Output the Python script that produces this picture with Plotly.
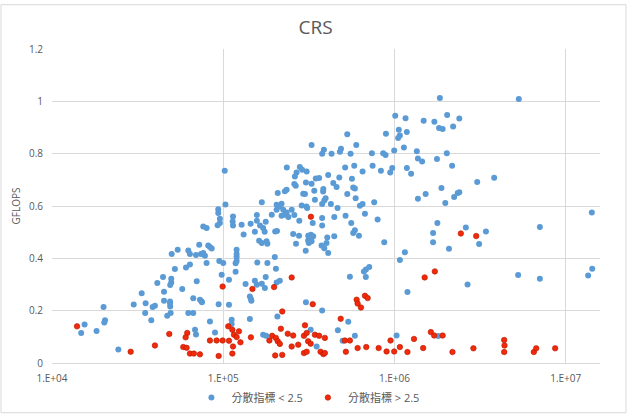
import plotly.graph_objects as go

# ---------------- data ----------------
chart_title = "CRS"
y_axis_title = "GFLOPS"
series_names = ["分散指標 < 2.5", "分散指標 > 2.5"]
x_tick_vals = [1e4, 1e5, 1e6, 1e7]
x_tick_labels = ["1.E+04", "1.E+05", "1.E+06", "1.E+07"]

blue_x = [
    14800, 15500, 18200, 20000, 20400, 20200, 24400, 30000,
    76400, 80000, 92700, 95600, 113500, 114000, 128000, 144500, 157000, 164000, 171000, 174500, 177000, 131500, 153000, 201000, 206000, 162000, 168000, 179000, 181000,
    50000, 54200, 62500, 63900, 69300, 72400, 74100, 76400, 78200, 81700, 83600, 85600, 79900, 94800, 100000, 119700, 119700, 119700, 119700, 118100, 118100, 158000, 181000, 200000, 203000,
    52200, 60600, 63900, 97900, 108000, 70000, 57600, 44500, 41200, 49700, 49700, 49000, 45100, 66800, 73100, 74800, 75100, 94000, 108000, 135000, 153000, 157000, 168000, 175000, 143000, 145000, 146000, 177000, 205000, 214000,
    33400, 35200, 38700, 39900, 45100, 48900, 48900, 49000, 47100, 49300, 38000, 62500, 66800, 35000, 83600, 112000, 143000, 207000, 68400, 69300, 89500, 112000, 171000, 178000,
    102000, 103000, 93500, 93500, 95600, 114000, 157000, 168000, 192000, 205000, 205000, 214000, 219000, 224000, 208000, 229000, 234500, 219000, 229000, 234500, 240000, 235000,
    1840000, 1010000, 1160000, 1480000, 1710000, 2030000, 2200000, 2390000, 1820000, 1910000, 530000, 891000, 1060000, 1180000, 1075000, 1050000,
    328000, 387000, 378000, 429000, 487000, 480000, 554000, 598000, 738000, 859000, 887000, 996000, 1135000, 1350000, 1370000, 1450000, 1770000, 2020000,
    515000, 582000, 651000, 745000, 833000, 944000, 970000, 1181000, 1250000, 2170000, 280000, 289000, 268000, 262000, 307000,
    260000, 265000, 304000, 328000, 347000, 363000, 410000, 439000, 459000, 476000, 564000, 574000, 587000,
    293000, 300000, 340000, 384000, 383000, 530000, 343000, 396000, 389000, 378000, 425000, 287000, 309000, 306000, 593000, 651000, 628000, 761000, 465000,
    251000, 260000, 378000, 445000, 518000, 672000, 1370000, 1520000, 1880000, 1980000, 2230000, 2340000, 2390000, 3040000, 3820000, 5320000,
    278000, 333000, 378000, 559000, 797000, 256000, 277000, 266000, 313500, 325000, 335000, 321000, 313000, 316000, 328000, 303000, 375000, 389000, 401000, 410000, 405000, 445000,
    574000, 587000, 620000, 871000, 1150000, 1075000, 1680000, 1680000, 1780000, 2080000, 712000, 681000, 663000, 549000, 680000, 1190000,
    304000, 378000, 537000, 324000, 467000, 587000, 498000, 351000, 1028000, 1800000,
    2610000, 3120000, 3420000, 7060000, 14200000, 2670000, 5270000, 7060000, 14270000, 13510000,
]
blue_y = [
    0.115, 0.147, 0.122, 0.214, 0.163, 0.155, 0.052, 0.224,
    0.522, 0.516, 0.526, 0.535, 0.541, 0.525, 0.528, 0.532, 0.544, 0.525, 0.516, 0.502, 0.540, 0.491, 0.502, 0.503, 0.504, 0.467, 0.459, 0.465, 0.456,
    0.417, 0.433, 0.430, 0.417, 0.413, 0.452, 0.417, 0.420, 0.410, 0.449, 0.443, 0.438, 0.382, 0.390, 0.382, 0.433, 0.417, 0.405, 0.390, 0.381, 0.349, 0.384, 0.382, 0.405, 0.360,
    0.359, 0.365, 0.376, 0.337, 0.318, 0.312, 0.283, 0.329, 0.306, 0.322, 0.308, 0.298, 0.272, 0.247, 0.242, 0.235, 0.232, 0.225, 0.223, 0.302, 0.314, 0.299, 0.303, 0.287, 0.254, 0.245, 0.238, 0.329, 0.308, 0.314,
    0.267, 0.228, 0.214, 0.219, 0.238, 0.235, 0.227, 0.216, 0.181, 0.191, 0.163, 0.191, 0.191, 0.191, 0.159, 0.165, 0.168, 0.178, 0.127, 0.109, 0.117, 0.149, 0.108, 0.104,
    0.735, 0.606, 0.588, 0.573, 0.551, 0.560, 0.566, 0.614, 0.567, 0.586, 0.605, 0.598, 0.609, 0.586, 0.650, 0.656, 0.662, 0.563, 0.567, 0.575, 0.558, 0.747,
    1.013, 0.945, 0.935, 0.926, 0.922, 0.948, 0.904, 0.934, 0.898, 0.894, 0.874, 0.876, 0.891, 0.883, 0.869, 0.860,
    0.833, 0.815, 0.800, 0.800, 0.819, 0.807, 0.800, 0.833, 0.802, 0.802, 0.795, 0.812, 0.824, 0.809, 0.782, 0.770, 0.780, 0.802,
    0.747, 0.754, 0.732, 0.754, 0.735, 0.728, 0.745, 0.745, 0.723, 0.754, 0.749, 0.739, 0.728, 0.713, 0.732,
    0.684, 0.677, 0.690, 0.685, 0.705, 0.707, 0.718, 0.688, 0.673, 0.709, 0.704, 0.671, 0.667,
    0.647, 0.646, 0.658, 0.665, 0.655, 0.646, 0.624, 0.630, 0.621, 0.608, 0.608, 0.602, 0.592, 0.598, 0.630, 0.608, 0.601, 0.614, 0.592,
    0.586, 0.566, 0.554, 0.558, 0.563, 0.570, 0.628, 0.646, 0.669, 0.611, 0.634, 0.650, 0.653, 0.692, 0.708, 1.009,
    0.544, 0.535, 0.525, 0.535, 0.548, 0.493, 0.486, 0.456, 0.486, 0.490, 0.484, 0.474, 0.468, 0.459, 0.465, 0.429, 0.449, 0.439, 0.459, 0.420, 0.480, 0.484,
    0.497, 0.507, 0.486, 0.461, 0.423, 0.394, 0.497, 0.461, 0.535, 0.437, 0.367, 0.357, 0.350, 0.330, 0.329, 0.271,
    0.232, 0.201, 0.158, 0.127, 0.125, 0.104, 0.085, 0.063, 0.105, 0.103,
    0.518, 0.455, 0.503, 0.520, 0.575, 0.300, 0.336, 0.322, 0.360, 0.334,
]

red_x = [
    14000, 28800,
    99200, 148000, 198000, 221000, 48400, 61600, 60300, 39900, 58400, 61100, 63900, 67400, 73100, 83600, 91500, 99200, 108000, 107000, 113000, 115500, 119700, 123500, 126000, 114000, 94000, 113000, 145000, 186000, 193000, 203000, 208000, 214000, 217000, 238000, 201000, 221000,
    251000, 333000, 601000, 609000, 637000, 672000, 697000, 1500000, 1720000, 485000, 300000, 256000, 296000, 307000, 343000, 363000, 392000, 251000, 274000, 313000, 324000, 296000, 307000, 370000, 384000, 392000, 513000, 549000, 520000, 609000, 684000, 808000, 899000, 996000, 948000, 1075000, 1190000, 1300000, 1470000, 1630000, 1705000, 1910000, 2180000,
    325000,
    2440000, 3000000, 2890000, 4370000, 4390000, 4370000, 6510000, 6720000, 8670000,
]
red_y = [
    0.140, 0.043,
    0.292, 0.283, 0.290, 0.197, 0.111, 0.115, 0.098, 0.067, 0.061, 0.058, 0.036, 0.036, 0.033, 0.086, 0.086, 0.086, 0.085, 0.140, 0.127, 0.108, 0.099, 0.121, 0.079, 0.063, 0.027, 0.036, 0.098, 0.086, 0.104, 0.096, 0.083, 0.073, 0.131, 0.112, 0.029, 0.031,
    0.327, 0.225, 0.242, 0.227, 0.212, 0.257, 0.248, 0.327, 0.350, 0.169, 0.144, 0.105, 0.104, 0.115, 0.108, 0.104, 0.096, 0.063, 0.070, 0.083, 0.074, 0.038, 0.043, 0.043, 0.034, 0.038, 0.086, 0.086, 0.043, 0.057, 0.061, 0.057, 0.044, 0.044, 0.086, 0.061, 0.042, 0.092, 0.057, 0.118, 0.105, 0.105, 0.042,
    0.559,
    0.495, 0.485, 0.056, 0.088, 0.067, 0.042, 0.042, 0.056, 0.056,
]

# ---------------- styles ----------------
BLUE = "#5B9BD5"
RED = "#F02A0A"
TEXT = "#595959"
GRID = "#D9D9D9"
FONT = "Open Sans, Noto Sans CJK TC, sans-serif"

fig = go.Figure()
fig.add_trace(go.Scatter(
    x=blue_x, y=blue_y, mode="markers", name=series_names[0],
    marker=dict(color=BLUE, size=6, line=dict(width=0)),
))
fig.add_trace(go.Scatter(
    x=red_x, y=red_y, mode="markers", name=series_names[1],
    marker=dict(color=RED, size=5.5, line=dict(color="#B81800", width=0.6)),
))

fig.update_layout(
    width=631, height=420,
    margin=dict(l=52, r=31, t=49, b=57, autoexpand=False),
    paper_bgcolor="white", plot_bgcolor="white",
    font=dict(family=FONT, color=TEXT, size=10),
    title=dict(text=chart_title, x=0.5, xanchor="center", y=1 - 27 / 420, yanchor="middle",
               font=dict(size=19, color=TEXT, family=FONT)),
    showlegend=True,
    legend=dict(orientation="h", x=0.467, xanchor="center", y=-0.11, yanchor="middle",
                font=dict(size=11, color=TEXT, family=FONT), itemwidth=30,
                bgcolor="rgba(0,0,0,0)"),
    xaxis=dict(
        type="log", range=[4, 7.2], tickvals=x_tick_vals, ticktext=x_tick_labels,
        automargin=False,
        showgrid=True, gridcolor=GRID, gridwidth=1,
        showline=True, linecolor=GRID, linewidth=1, zeroline=False,
        ticks="", ticklabelstandoff=6, tickfont=dict(size=10, color=TEXT),
    ),
    yaxis=dict(
        range=[0, 1.2], dtick=0.2, tick0=0, automargin=False,
        showgrid=True, gridcolor=GRID, gridwidth=1,
        showline=False, zeroline=False,
        ticks="", ticklabelstandoff=8, tickfont=dict(size=10, color=TEXT),
        title=dict(text=y_axis_title, font=dict(size=10, color=TEXT), standoff=6),
    ),
    shapes=[dict(type="rect", xref="paper", yref="paper",
                 x0=(1 - 52) / 548, x1=(626 - 52) / 548,
                 y0=(363.3 - 413) / 314, y1=(363.3 - 5) / 314,
                 line=dict(color=GRID, width=1), fillcolor="rgba(0,0,0,0)", layer="below")],
)

fig.write_html("out.html")
